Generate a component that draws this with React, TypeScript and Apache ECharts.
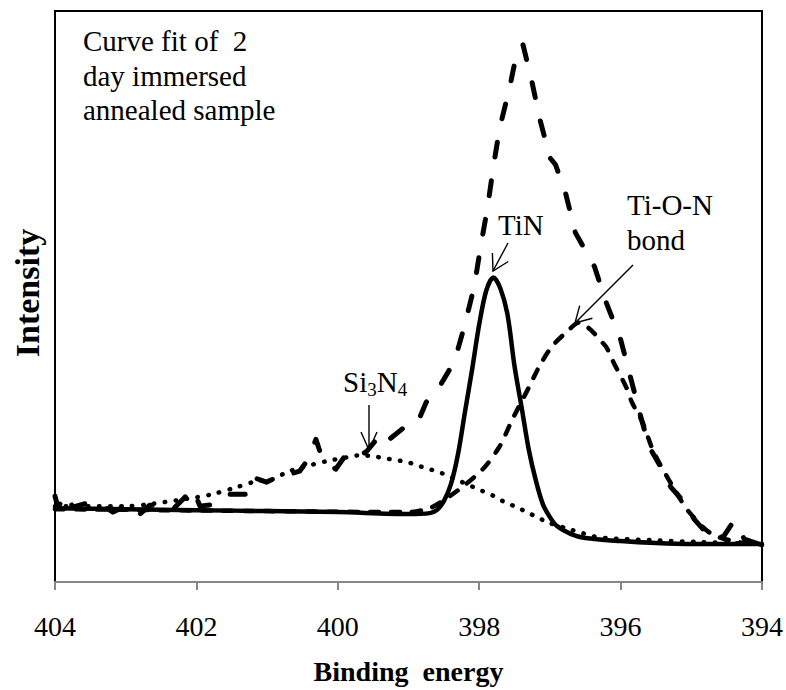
import React, { useEffect, useRef } from "react";
import * as echarts from "echarts";

// Binding energy (eV) and intensity (a.u.)
const measuredEnergy = [
  404.0, 403.96, 403.83, 403.75, 403.6, 403.46, 403.32, 403.18, 403.04, 402.91, 402.8, 402.66, 402.47, 402.33,
  402.19, 402.05, 401.95, 401.71, 401.53, 401.29, 401.2, 401.01, 400.86, 400.68, 400.54, 400.4, 400.31, 400.23,
  400.03, 399.9, 399.76, 399.59, 399.45, 399.37, 399.27, 399.06, 398.87, 398.75, 398.56, 398.35, 398.21, 398.07,
  397.98, 397.88, 397.8, 397.71, 397.57, 397.46, 397.38, 397.26, 397.14, 397.0, 396.92, 396.78, 396.64, 396.37,
  396.22, 396.0, 395.86, 395.72, 395.6, 395.43, 395.29, 395.1, 394.96, 394.71, 394.54, 394.4, 394.25, 394.04, 394.0,
];
const measuredIntensity = [
  86, 75, 88, 75, 78, 80, 76, 70, 75, 76, 68, 77, 77, 73,
  83, 93, 76, 78, 88, 88, 105, 100, 105, 108, 111, 125, 143, 126,
  113, 126, 123, 131, 143, 150, 143, 155, 160, 180, 196, 221, 256, 296,
  336, 376, 416, 455, 495, 533, 538, 503, 463, 425, 418, 390, 350, 316,
  283, 243, 205, 167, 136, 115, 95, 80, 63, 43, 46, 61, 43, 38, 35,
];

const tinEnergy = [
  404.0, 403.0, 402.0, 401.0, 400.0, 399.0, 398.7, 398.6, 398.5, 398.4, 398.3, 398.2, 398.1, 398.0, 397.9,
  397.8, 397.7, 397.6, 397.5, 397.4, 397.3, 397.2, 397.1, 397.0, 396.9, 396.7, 396.5, 396.0, 395.5, 395.0, 394.0,
];
const tinIntensity = [
  74, 73, 72, 71, 70, 68, 69, 72, 81, 98, 128, 171, 213, 258, 292,
  305, 294, 268, 216, 175, 133, 102, 78, 65, 56, 48, 44, 41, 39, 38, 38,
];

const tionEnergy = [
  404.0, 401.0, 399.0, 398.7, 398.52, 398.28, 397.95, 397.71, 397.53, 397.29, 397.15, 396.97, 396.77, 396.58,
  396.4, 396.3, 396.2, 396.12, 396.05, 395.92, 395.84, 395.69, 395.53, 395.24, 395.03, 394.71, 394.33, 394.0,
];
const tionIntensity = [
  73, 71, 70, 74, 81, 93, 113, 136, 163, 196, 216, 236, 250, 260,
  251, 243, 235, 223, 213, 195, 180, 160, 130, 93, 70, 48, 40, 37,
];

const si3n4Energy = [
  404.0, 403.0, 402.66, 401.99, 401.77, 401.43, 401.15, 400.92, 400.72, 400.5, 400.16, 399.86, 399.69, 399.51,
  399.34, 399.17, 399.01, 398.84, 398.7, 398.53, 398.24, 397.95, 397.79, 397.64, 397.47, 397.33, 397.18, 397.04,
  396.73, 396.54, 396.4, 396.2, 395.6, 394.89, 394.0,
];
const si3n4Intensity = [
  76, 76, 78, 85, 88, 95, 101, 103, 110, 115, 121, 125, 127, 126,
  124, 122, 120, 116, 113, 109, 100, 91, 86, 80, 75, 70, 65, 60,
  53, 49, 46, 44, 42, 40, 38,
];

const xTicks = { min: 394, max: 404, interval: 2 };
const yRange = { min: 0, max: 572 };

const serif = "Liberation Serif";

const pairs = (xs: number[], ys: number[]) => xs.map((x, i) => [x, ys[i]]);

export default function App() {
  const ref = useRef<HTMLDivElement>(null);

  useEffect(() => {
    if (!ref.current) return;
    const chart = echarts.init(ref.current, undefined, { renderer: "svg" });
    const thin = { stroke: "#000", lineWidth: 1.4, fill: "none" };
    const note = { fontSize: 29, fontFamily: serif, fill: "#000", align: "left", verticalAlign: "middle" };
    chart.setOption({
      animation: false,
      backgroundColor: "#fff",
      textStyle: { fontFamily: serif },
      grid: {
        left: 55,
        right: 23,
        top: 11,
        bottom: 107,
        show: true,
        borderColor: "#000",
        borderWidth: 2,
        backgroundColor: "transparent",
      },
      xAxis: {
        type: "value",
        min: xTicks.min,
        max: xTicks.max,
        interval: xTicks.interval,
        inverse: true,
        axisLine: { show: true, lineStyle: { color: "#868686", width: 2 } },
        axisTick: { show: true, length: 8, lineStyle: { color: "#868686", width: 2 } },
        axisLabel: {
          fontSize: 28,
          fontFamily: serif,
          color: "#000",
          margin: 30,
          showMinLabel: true,
          showMaxLabel: true,
        },
        splitLine: { show: false },
        name: "Binding  energy",
        nameLocation: "middle",
        nameGap: 75,
        nameTextStyle: { fontSize: 28, fontWeight: "bold", fontFamily: serif, color: "#000" },
      },
      yAxis: {
        type: "value",
        min: yRange.min,
        max: yRange.max,
        axisLine: { show: false },
        axisTick: { show: false },
        axisLabel: { show: false },
        splitLine: { show: false },
      },
      series: [
        {
          name: "Measured",
          type: "line",
          data: pairs(measuredEnergy, measuredIntensity),
          symbol: "none",
          z: 4,
          lineStyle: { color: "#000", width: 5, type: [15, 24], cap: "round", join: "round" },
        },
        {
          name: "TiN",
          type: "line",
          data: pairs(tinEnergy, tinIntensity),
          symbol: "none",
          smooth: 0.3,
          z: 3,
          lineStyle: { color: "#000", width: 4.5, type: "solid", cap: "round", join: "round" },
        },
        {
          name: "Ti-O-N",
          type: "line",
          data: pairs(tionEnergy, tionIntensity),
          symbol: "none",
          smooth: 0.3,
          z: 3,
          lineStyle: { color: "#000", width: 4.5, type: [9, 12], cap: "round", join: "round" },
        },
        {
          name: "Si3N4",
          type: "line",
          data: pairs(si3n4Energy, si3n4Intensity),
          symbol: "none",
          smooth: 0.3,
          z: 3,
          lineStyle: { color: "#000", width: 4.5, type: [0.5, 10.5], cap: "round", join: "round" },
        },
      ],
      graphic: [
        {
          type: "text",
          x: 27.5,
          y: 293,
          rotation: Math.PI / 2,
          style: {
            text: "Intensity",
            fontSize: 34,
            fontWeight: "bold",
            fontFamily: serif,
            fill: "#000",
            align: "center",
            verticalAlign: "middle",
          },
        },
        {
          type: "text",
          x: 83,
          y: 24,
          style: {
            text: "Curve fit of  2\nday immersed\nannealed sample",
            fontSize: 29,
            lineHeight: 34.5,
            fontFamily: serif,
            fill: "#000",
            align: "left",
            verticalAlign: "top",
          },
        },
        { type: "text", x: 498, y: 225, style: { ...note, text: "TiN" } },
        { type: "text", x: 627, y: 205, style: { ...note, text: "Ti-O-N" } },
        { type: "text", x: 627, y: 240, style: { ...note, text: "bond" } },
        {
          type: "text",
          x: 343,
          y: 365,
          style: {
            text: "{a|Si}{b|3}{a|N}{b|4}",
            fontFamily: serif,
            fill: "#000",
            align: "left",
            verticalAlign: "top",
            rich: {
              a: { fontSize: 29, lineHeight: 34, fontFamily: serif, fill: "#000" },
              b: { fontSize: 19, lineHeight: 14, fontFamily: serif, fill: "#000", verticalAlign: "bottom" },
            },
          },
        },
        // Si3N4 arrow
        { type: "line", shape: { x1: 369, y1: 405, x2: 369, y2: 449 }, style: thin },
        { type: "polyline", shape: { points: [[361, 432], [369, 450], [377, 432]] }, style: thin },
        // TiN arrow
        { type: "line", shape: { x1: 508, y1: 243, x2: 493, y2: 271 }, style: thin },
        { type: "polyline", shape: { points: [[492.4, 253], [493, 271], [508.3, 261.5]] }, style: thin },
        // Ti-O-N arrow
        { type: "line", shape: { x1: 633, y1: 265, x2: 575, y2: 323 }, style: thin },
        { type: "polyline", shape: { points: [[579.7, 305.6], [575, 323], [592.4, 318.3]] }, style: thin },
      ],
    });
    return () => chart.dispose();
  }, []);

  return (
    <div
      ref={ref}
      style={{ position: "absolute", left: 0, top: 0, width: 786, height: 690, background: "#fff" }}
    />
  );
}
